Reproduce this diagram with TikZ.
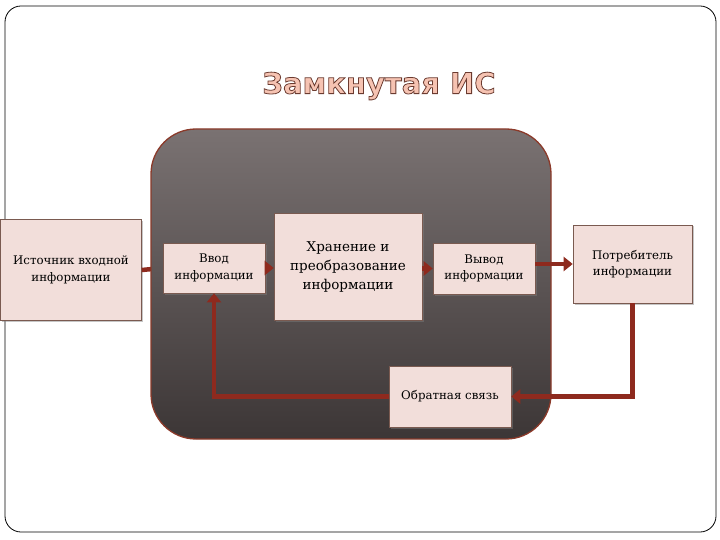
\documentclass[tikz,border=0pt]{standalone}
\usepackage{fontspec}
\setmainfont{DejaVu Serif}
\newfontfamily\titlefont{DejaVu Sans}
\usetikzlibrary{arrows.meta,shadows}
\definecolor{boxfill}{HTML}{F2DEDA}
\definecolor{boxline}{HTML}{7A5A50}
\definecolor{arrowred}{HTML}{8E2A1E}
\definecolor{contline}{HTML}{8B3A2A}
\definecolor{conttop}{HTML}{7A7272}
\definecolor{contbot}{HTML}{3C3636}
\definecolor{titlepink}{HTML}{F6C3B2}
\tikzset{
  infobox/.style={draw=boxline, line width=0.6pt, fill=boxfill, align=center,
    inner sep=2pt, font=\fontsize{11.8}{16.5}\selectfont,
    drop shadow={shadow xshift=1.5pt, shadow yshift=-1.5pt, opacity=0.45}},
  flow/.style={draw=arrowred, line width=4.5pt,
    -{Triangle[width=14pt,length=9pt]}},
}
\begin{document}
\begin{tikzpicture}[x=1pt,y=-1pt]
\useasboundingbox (0,0) rectangle (720,540);
% outer frame
\draw[black, line width=0.8pt, rounded corners=16pt] (5,6) rectangle (716,532);
% title (outlined text)
\node (title) at (379,86) {\titlefont\bfseries\fontsize{29}{32}\selectfont
  \color{titlepink}\special{pdf:literal direct 2 Tr 0.8 w 0.42 0.23 0.19 RG}Замкнутая ИС\special{pdf:literal direct 0 Tr}};
% source box and stub arrow (drawn before container)
\node[infobox, minimum width=141pt, minimum height=101pt] (src) at (71,270)
  {Источник входной\\информации};
\node[minimum width=102pt, minimum height=50pt, inner sep=0pt] (vvodpos) at (214,268) {};
\draw[flow] (src.east) -- (vvodpos.west);
% container
\draw[contline, line width=1.3pt, rounded corners=45pt,
  top color=conttop, bottom color=contbot] (151,129) rectangle (551,439);
% boxes
\node[infobox, minimum width=102pt, minimum height=50pt] (vvod) at (214,268)
  {Ввод\\информации};
\node[infobox, minimum width=148pt, minimum height=107pt,
  font=\fontsize{13.5}{19}\selectfont] (hran) at (348,266.5)
  {Хранение и\\преобразование\\информации};
\node[infobox, minimum width=102pt, minimum height=51pt] (vyvod) at (484,268.5)
  {Вывод\\информации};
\node[infobox, minimum width=119pt, minimum height=78pt] (potr) at (632.5,264)
  {Потребитель\\информации};
\node[infobox, minimum width=122pt, minimum height=61pt] (obr) at (450,396.5)
  {Обратная связь};
% connectors
\draw[flow] (vvod.east) -- (hran.west |- vvod.east);
\draw[flow] (hran.east |- vyvod.west) -- (vyvod.west);
\draw[flow] (vyvod.east |- potr.west) -- (potr.west);
\draw[flow] (potr.south) |- (obr.east);
\draw[flow] (obr.west) -| (vvod.south);
\end{tikzpicture}
\end{document}
